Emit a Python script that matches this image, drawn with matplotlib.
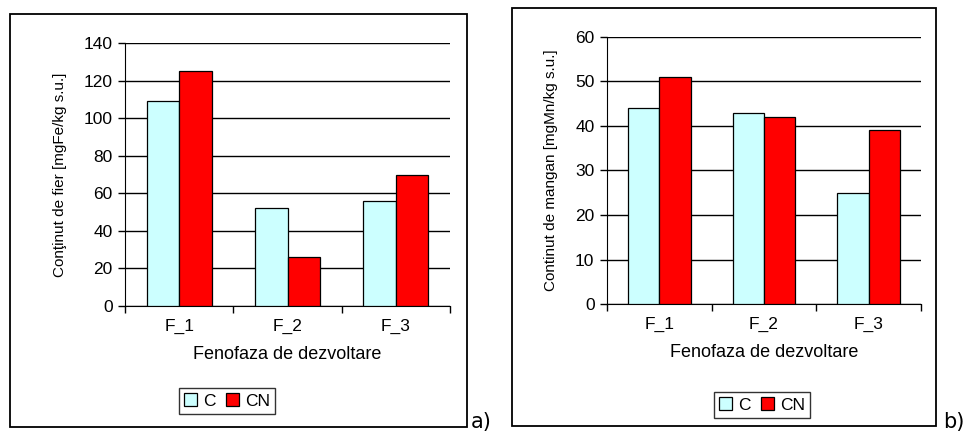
import numpy as np
import matplotlib.pyplot as plt
from matplotlib.patches import Rectangle

plt.rcParams['font.family'] = ['Liberation Sans', 'DejaVu Sans']

faze = ['F_1', 'F_2', 'F_3']
serii = ['C', 'CN']
fier_C = [109, 52, 56]
fier_CN = [125, 26, 70]
mangan_C = [44, 43, 25]
mangan_CN = [51, 42, 39]

W, H = 971, 438
fig = plt.figure(figsize=(W / 100, H / 100), dpi=100)

def px_rect(x0, y0, x1, y1):
    return [x0 / W, 1 - y1 / H, (x1 - x0) / W, (y1 - y0) / H]

# chenarele exterioare
for x0, y0, x1, y1 in [(10, 14, 467, 427), (512, 8, 936, 426)]:
    fig.patches.append(Rectangle((x0 / W, 1 - y1 / H), (x1 - x0) / W, (y1 - y0) / H,
                                 transform=fig.transFigure, fill=False,
                                 edgecolor='black', linewidth=1.3))

def panel(rect, c_vals, cn_vals, ymax, ystep, ylabel, leg_pos):
    ax = fig.add_axes(rect)
    x = np.arange(len(faze))
    w = 0.3
    b1 = ax.bar(x - w / 2, c_vals, w, color='#CCFFFF', edgecolor='black', linewidth=0.9, zorder=3)
    b2 = ax.bar(x + w / 2, cn_vals, w, color='#FF0000', edgecolor='black', linewidth=0.9, zorder=3)
    ax.set_xlim(-0.5, len(faze) - 0.5)
    ax.set_ylim(0, ymax)
    ax.set_yticks(np.arange(0, ymax + 1, ystep))
    ax.yaxis.grid(True, color='black', linewidth=1.0, zorder=0)
    ax.set_axisbelow(True)
    ax.spines['top'].set_visible(False)
    ax.spines['right'].set_visible(False)
    ax.set_xticks(x)
    ax.set_xticklabels(faze, fontsize=12.5)
    ax.set_xticks(np.arange(-0.5, len(faze), 1), minor=True)
    ax.tick_params(axis='x', which='major', length=0, pad=9)
    ax.tick_params(axis='x', which='minor', length=5, width=1, direction='out')
    ax.tick_params(axis='y', length=5, width=1, labelsize=12.5, pad=4)
    ax.set_xlabel('Fenofaza de dezvoltare', fontsize=13, labelpad=9)
    ax.set_ylabel(ylabel, fontsize=11, labelpad=12)
    leg = fig.legend([b1, b2], serii, loc='center', bbox_to_anchor=leg_pos,
                     ncol=2, fontsize=12.5, frameon=True, fancybox=False,
                     edgecolor='black', handlelength=0.75, handleheight=0.75,
                     handletextpad=0.35, columnspacing=0.6, borderpad=0.3,
                     borderaxespad=0)
    leg.get_frame().set_linewidth(1.0)
    return ax

panel(px_rect(125, 43, 450, 306), fier_C, fier_CN, 140, 20,
      'Conţinut de fier [mgFe/kg s.u.]', (227 / W, 1 - 401 / H))
panel(px_rect(607, 36.7, 921, 304.3), mangan_C, mangan_CN, 60, 10,
      'Continut de mangan [mgMn/kg s.u.]', (762 / W, 1 - 405 / H))

fig.text(471 / W, 1 - 428 / H, 'a)', fontsize=15, family='DejaVu Sans', va='baseline')
fig.text(943 / W, 1 - 428 / H, 'b)', fontsize=15, family='DejaVu Sans', va='baseline')

fig.savefig('out.png', dpi=100)
